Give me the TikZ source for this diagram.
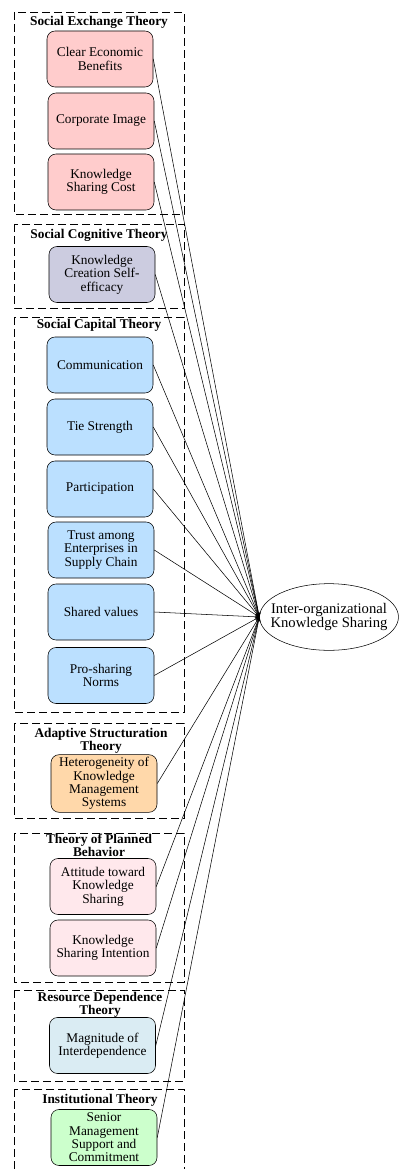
\documentclass[tikz,border=0pt]{standalone}
\usepackage{fontspec}
\setmainfont{Liberation Serif}
\usepackage{tikz}
\usetikzlibrary{arrows,shapes,positioning}
\usepackage{xcolor}
\definecolor{setpink}{RGB}{255,204,204}
\definecolor{sctgray}{RGB}{204,204,224}
\definecolor{capblue}{RGB}{187,224,255}
\definecolor{astorange}{RGB}{255,216,170}
\definecolor{tpbpink}{RGB}{255,232,236}
\definecolor{rdtblue}{RGB}{218,236,243}
\definecolor{itgreen}{RGB}{204,255,204}
\tikzstyle{factor} = [draw, rounded corners=6pt, align=center, minimum width=79.5pt, minimum height=42pt, inner sep=2pt, font=\fontsize{10}{10}\selectfont]
\tikzstyle{group} = [draw, dash pattern=on 6pt off 3pt]
\tikzstyle{grouptitle} = [align=center, font=\bfseries\fontsize{10}{9.5}\selectfont]
\tikzstyle{arrow} = [->,>=stealth]

\begin{document}
\begin{tikzpicture}[x=0.75pt,y=-0.75pt]
\useasboundingbox (0,0) rectangle (400,1169);

% Social exchange theory
\draw[group] (14,12) rectangle (184,214);
\node[grouptitle] (setitle) at (99,22) {Social Exchange Theory};
\node[factor, fill=setpink] (ceb) at (100,59) {Clear Economic\\Benefits};
\node[factor, fill=setpink] (ci) at (101,121) {Corporate Image};
\node[factor, fill=setpink] (ksc) at (101,182) {Knowledge\\Sharing Cost};

% Social cognitive theory
\draw[group] (14,224) rectangle (184,308);
\node[grouptitle] (scgtitle) at (99,235) {Social Cognitive Theory};
\node[factor, fill=sctgray] (kcse) at (102,274.5) {Knowledge\\Creation Self-\\efficacy};

% Social capital theory
\draw[group] (14,317) rectangle (184,712);
\node[grouptitle] (scptitle) at (99,325) {Social Capital Theory};
\node[factor, fill=capblue] (comm) at (100,365) {Communication};
\node[factor, fill=capblue] (tie) at (100,427) {Tie Strength};
\node[factor, fill=capblue] (part) at (100,489) {Participation};
\node[factor, fill=capblue] (trust) at (101,550) {Trust among\\Enterprises in\\Supply Chain};
\node[factor, fill=capblue] (shared) at (101,612) {Shared values};
\node[factor, fill=capblue] (norms) at (101,675.5) {Pro-sharing\\Norms};

% Adaptive structuration theory
\draw[group] (14,723) rectangle (184,818);
\node[grouptitle] (asttitle) at (101,740.5) {Adaptive Structuration\\Theory};
\node[factor, fill=astorange] (hetero) at (104,783.5) {Heterogeneity of\\Knowledge\\Management\\Systems};

% Theory of planned behavior
\draw[group] (14,833) rectangle (184,982);
\node[grouptitle] (tpbtitle) at (99,845.5) {Theory of Planned\\Behavior};
\node[factor, fill=tpbpink] (attitude) at (103,886.5) {Attitude toward\\Knowledge\\Sharing};
\node[factor, fill=tpbpink] (intention) at (103,948) {Knowledge\\Sharing Intention};

% Resource dependence theory
\draw[group] (14,990) rectangle (184,1081);
\node[grouptitle] (rdttitle) at (100,1005) {Resource Dependence\\Theory};
\node[factor, fill=rdtblue] (interdep) at (102.5,1045.5) {Magnitude of\\Interdependence};

% Institutional theory
\draw[group] (14,1089) rectangle (184,1185);
\node[grouptitle] (ittitle) at (100,1100) {Institutional Theory};
\node[factor, fill=itgreen] (senior) at (104,1137.5) {Senior\\Management\\Support and\\Commitment};

% Outcome
\node[draw, ellipse, align=center, minimum width=104pt, minimum height=50pt, inner xsep=-7pt, inner ysep=4pt, font=\fontsize{11}{11}\selectfont] (iks) at (329,617) {Inter-organizational\\Knowledge Sharing};

% Links
\draw[arrow] (ceb.east) -- (iks.west);
\draw[arrow] (ci.east) -- (iks.west);
\draw[arrow] (ksc.east) -- (iks.west);
\draw[arrow] (kcse.east) -- (iks.west);
\draw[arrow] (comm.east) -- (iks.west);
\draw[arrow] (tie.east) -- (iks.west);
\draw[arrow] (part.east) -- (iks.west);
\draw[arrow] (trust.east) -- (iks.west);
\draw[arrow] (shared.east) -- (iks.west);
\draw[arrow] (norms.east) -- (iks.west);
\draw[arrow] (hetero.east) -- (iks.west);
\draw[arrow] (attitude.east) -- (iks.west);
\draw[arrow] (intention.east) -- (iks.west);
\draw[arrow] (interdep.east) -- (iks.west);
\draw[arrow] (senior.east) -- (iks.west);
\end{tikzpicture}
\end{document}
